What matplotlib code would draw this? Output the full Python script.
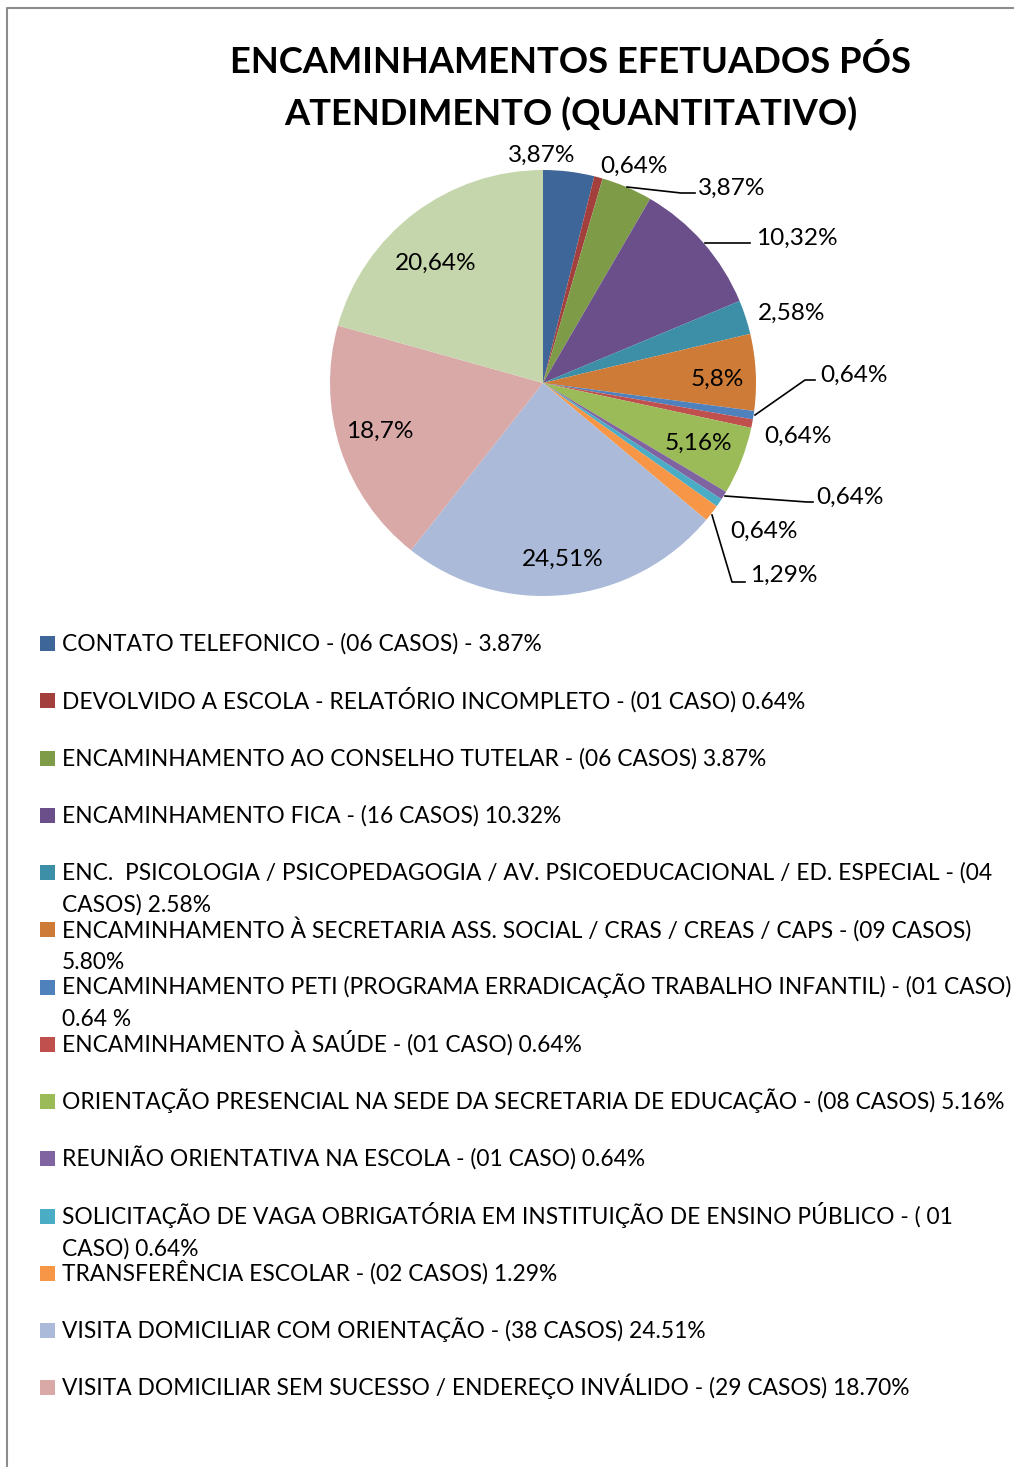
import matplotlib
matplotlib.use("Agg")
import matplotlib.pyplot as plt
from matplotlib.patches import Rectangle

plt.rcParams['font.family'] = ['Lato', 'DejaVu Sans']

# data (percent of 155 cases, as typed in the source sheet)
percent = [3.87, 0.64, 3.87, 10.32, 2.58, 5.80, 0.64, 0.64,
           5.16, 0.64, 0.64, 1.29, 24.51, 18.70, 20.64]
colors = ['#3F6698', '#A3403D', '#7E9C48', '#6A4F8A', '#3C8FA6', '#CE7B37',
          '#4F81BD', '#C0504D', '#9BBB59', '#8064A2', '#4BACC6', '#F79646',
          '#AABAD8', '#D9A9A8', '#C6D6AC']
legend_labels = [
    "CONTATO TELEFONICO - (06 CASOS) - 3.87%",
    "DEVOLVIDO A ESCOLA - RELATÓRIO INCOMPLETO - (01 CASO) 0.64%",
    "ENCAMINHAMENTO AO CONSELHO TUTELAR - (06 CASOS) 3.87%",
    "ENCAMINHAMENTO FICA - (16 CASOS) 10.32%",
    "ENC.  PSICOLOGIA / PSICOPEDAGOGIA / AV. PSICOEDUCACIONAL / ED. ESPECIAL - (04\nCASOS) 2.58%",
    "ENCAMINHAMENTO À SECRETARIA ASS. SOCIAL / CRAS / CREAS / CAPS - (09 CASOS)\n5.80%",
    "ENCAMINHAMENTO PETI (PROGRAMA ERRADICAÇÃO TRABALHO INFANTIL) - (01 CASO)\n0.64 %",
    "ENCAMINHAMENTO À SAÚDE - (01 CASO) 0.64%",
    "ORIENTAÇÃO PRESENCIAL NA SEDE DA SECRETARIA DE EDUCAÇÃO - (08 CASOS) 5.16%",
    "REUNIÃO ORIENTATIVA NA ESCOLA - (01 CASO) 0.64%",
    "SOLICITAÇÃO DE VAGA OBRIGATÓRIA EM INSTITUIÇÃO DE ENSINO PÚBLICO - ( 01\nCASO) 0.64%",
    "TRANSFERÊNCIA ESCOLAR - (02 CASOS) 1.29%",
    "VISITA DOMICILIAR COM ORIENTAÇÃO - (38 CASOS) 24.51%",
    "VISITA DOMICILIAR SEM SUCESSO / ENDEREÇO INVÁLIDO - (29 CASOS) 18.70%",
]
title = "ENCAMINHAMENTOS EFETUADOS PÓS\nATENDIMENTO (QUANTITATIVO)"

W, H = 1014, 1467
fig = plt.figure(figsize=(W / 100, H / 100), dpi=100)
ax = fig.add_axes([0, 0, 1, 1])

def Y(y):
    # picture rows run downwards, axes y runs upwards
    return H - y

ax.pie(percent, colors=colors, startangle=90, counterclock=False,
       center=(543, Y(383)), radius=213, wedgeprops=dict(linewidth=0))
ax.set_xlim(0, W)
ax.set_ylim(0, H)
ax.set_aspect('equal')
ax.axis('off')

# frame of the chart area (only left and top edges visible)
ax.plot([7, 7, W], [0, Y(8), Y(8)], color='#8C8C8C', lw=1.5, solid_capstyle='butt')

# title
for i, line in enumerate(title.split('\n')):
    ax.text(571, Y(73 + 52 * i), line, ha='center', va='baseline',
            fontsize=26.2, fontweight='bold')

# data labels: (x, baseline, ha)
label_pos = [(542, 162, 'center'), (634, 173, 'center'), (698, 195, 'left'),
             (756, 245, 'left'), (758, 320, 'left'), (717, 386, 'center'),
             (820, 382, 'left'), (764, 443, 'left'), (698, 450, 'center'),
             (816, 504, 'left'), (730, 538, 'left'), (750, 582, 'left'),
             (563, 566, 'center'), (380, 438, 'center'), (436, 270, 'center')]
for p, (x, y, ha) in zip(percent, label_pos):
    ax.text(x, Y(y), f"{p:g}".replace('.', ',') + '%', ha=ha, va='baseline',
            fontsize=17.6)

# leader lines
leaders = [[(627, 187), (681, 193), (695, 193)],
           [(705, 243), (750, 243)],
           [(755, 415), (805, 380), (815, 380)],
           [(725, 496), (807, 502), (813, 502)],
           [(712, 515), (732, 582), (745, 582)]]
for pts in leaders:
    ax.plot([p[0] for p in pts], [Y(p[1]) for p in pts], color='black', lw=1.2)

# legend (14 entries, last slice has none)
row0, step = 643.5, 57.25
for i, lab in enumerate(legend_labels):
    yc = row0 + step * i
    ax.add_patch(Rectangle((40, Y(yc + 7.5)), 15, 15, color=colors[i], lw=0))
    for j, line in enumerate(lab.split('\n')):
        ax.text(62, Y(yc + 7.5 + 32 * j), line, ha='left', va='baseline',
                fontsize=16.4)

fig.savefig('out.png', dpi=100)
